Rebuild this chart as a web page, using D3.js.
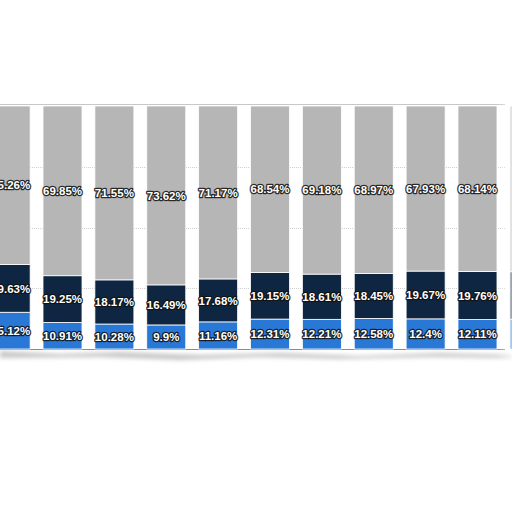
<!DOCTYPE html>
<head>
	<meta charset="utf-8">
	<script src="https://cdn.jsdelivr.net/npm/d3@7"></script>
	<style>
		body { margin: 0; background: #fff; }
		.lbl { font-family: "Liberation Sans", Arial, sans-serif; font-weight: bold; font-size: 11.5px;
			fill: #fff; stroke: #111; stroke-opacity: 0.85; stroke-width: 2.6px; stroke-linejoin: round; paint-order: stroke; }
	</style>
</head>
<body>
	<div id="main_div"></div>
	<script>
	// data (bar 1 and 11 are cut by the frame)
	var categories = ["2008", "2009", "2010", "2011", "2012", "2013", "2014", "2015", "2016", "2017", "2018"];
	var blueVals = [15.12, 10.91, 10.28, 9.9, 11.16, 12.31, 12.21, 12.58, 12.4, 12.11, 12.3];
	var navyVals = [19.63, 19.25, 18.17, 16.49, 17.68, 19.15, 18.61, 18.45, 19.67, 19.76, 19.5];
	var grayVals = [65.26, 69.85, 71.55, 73.62, 71.17, 68.54, 69.18, 68.97, 67.93, 68.14, 68.2];
	var gridTicks = [25, 50, 75];
	var seriesColors = ["#2a78d6", "#0f2642", "#b6b6b6"];

	var width = 512, height = 512;
	var top_y = 106, bottom_y = 349;

	var svg = d3.select("#main_div").append("svg")
		.attr("width", width)
		.attr("height", height)
		.style("display", "block");

	var defs = svg.append("defs");
	defs.append("filter").attr("id", "blur").attr("x", "-10%").attr("y", "-200%").attr("width", "120%").attr("height", "500%")
		.append("feGaussianBlur").attr("stdDeviation", 2.2);
	var grad = defs.append("linearGradient").attr("id", "fade").attr("x1", 0).attr("x2", 1);
	grad.append("stop").attr("offset", 0).attr("stop-color", "#fff").attr("stop-opacity", 0);
	grad.append("stop").attr("offset", 1).attr("stop-color", "#fff").attr("stop-opacity", 0.6);

	var x = d3.scaleBand()
		.domain(categories)
		.range([-15.3, 555.3])
		.paddingInner(0.248)
		.paddingOuter(0.124);

	var y = d3.scaleLinear().domain([0, 100]).range([bottom_y, top_y]);

	// torn paper shadow at the bottom
	svg.append("path")
		.attr("d", "M0,351 L60,354 L120,352 L200,355 L280,353 L360,356 L440,353 L512,355 L512,358 L430,357 L340,359 L260,357 L180,360 L100,357 L0,358 Z")
		.attr("fill", "#9a9a9a")
		.attr("opacity", 0.55)
		.attr("filter", "url(#blur)");
	svg.append("rect")
		.attr("x", 0).attr("y", top_y - 2).attr("width", 505).attr("height", bottom_y - top_y + 3)
		.attr("fill", "#fff");

	// edges
	svg.append("line")
		.attr("x1", 0).attr("x2", 505).attr("y1", top_y - 1.5).attr("y2", top_y - 1.5)
		.attr("stroke", "#c8c8c8").attr("stroke-width", 1);
	svg.append("line")
		.attr("x1", 0).attr("x2", 505).attr("y1", bottom_y + 0.5).attr("y2", bottom_y + 0.5)
		.attr("stroke", "#8a8a8a").attr("stroke-width", 1);

	// gridlines
	svg.append("g").selectAll("line")
		.data(gridTicks)
		.enter().append("line")
		.attr("x1", 0).attr("x2", 505)
		.attr("y1", function(d){ return Math.round(y(d)) + 0.5; })
		.attr("y2", function(d){ return Math.round(y(d)) + 0.5; })
		.attr("stroke", "#cfcfcf")
		.attr("stroke-dasharray", "1,1");

	var rows = categories.map(function(c, i){
		return {cat: c, blue: blueVals[i], navy: navyVals[i], gray: grayVals[i]};
	});
	var stack = d3.stack().keys(["blue", "navy", "gray"])(rows);

	var layers = svg.append("g").selectAll("g")
		.data(stack)
		.enter().append("g")
		.attr("fill", function(d, i){ return seriesColors[i]; });

	layers.selectAll("rect")
		.data(function(d){ return d; })
		.enter().append("rect")
		.attr("x", function(d){ return x(d.data.cat); })
		.attr("width", x.bandwidth())
		.attr("y", function(d){ return y(d[1]); })
		.attr("height", function(d){ return y(d[0]) - y(d[1]); })
		.attr("stroke", "#fff")
		.attr("stroke-width", 0.8);

	layers.selectAll("text")
		.data(function(d){ return d; })
		.enter().append("text")
		.attr("class", "lbl")
		.attr("x", function(d){ return x(d.data.cat) + x.bandwidth() / 2; })
		.attr("y", function(d){ return (y(d[0]) + y(d[1])) / 2; })
		.attr("dy", "0.36em")
		.attr("text-anchor", "middle")
		.text(function(d){ return +(d[1] - d[0]).toFixed(2) + "%"; });

	// right edge fades out
	svg.append("rect")
		.attr("x", 496).attr("y", 90).attr("width", 16).attr("height", 280)
		.attr("fill", "url(#fade)");
	</script>
</body>
